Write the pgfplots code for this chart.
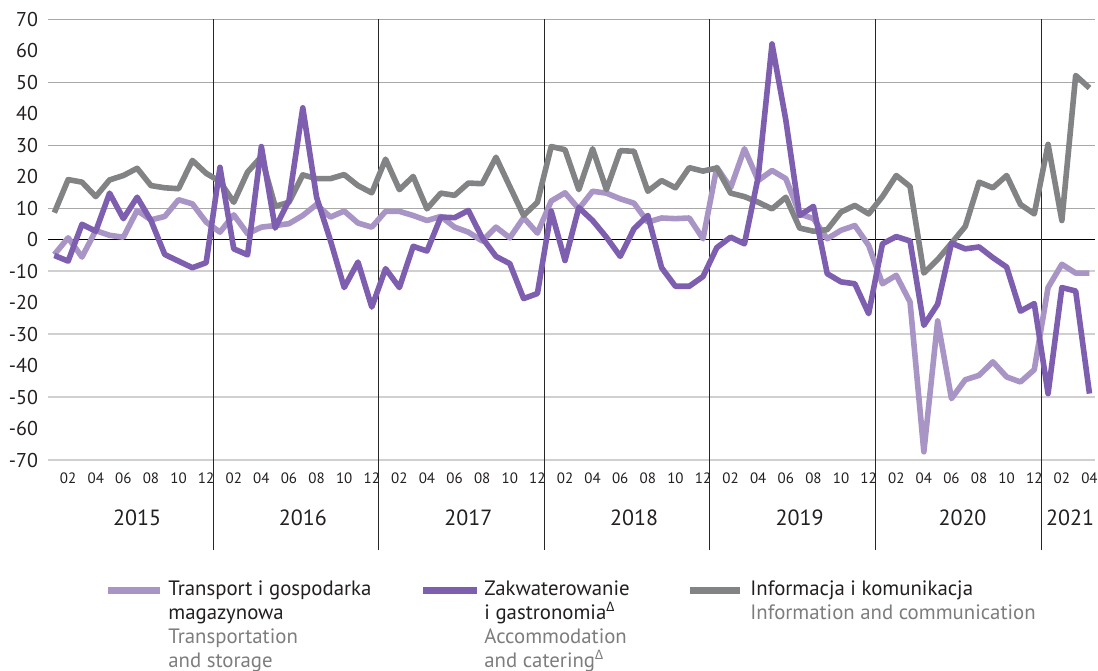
\documentclass[border=0pt]{standalone}
\usepackage{pgfplots}
\pgfplotsset{compat=1.18}
\usepackage{fontspec}
\setmainfont{PT Sans}
\newfontfamily\grk{Carlito}

\definecolor{lpur}{HTML}{A895C5}
\definecolor{dpur}{HTML}{7E5EAE}
\definecolor{grey}{HTML}{828385}
\definecolor{gridA}{HTML}{A8A8A8}
\definecolor{gridB}{HTML}{D0D0D0}
\definecolor{engl}{HTML}{7D7D7D}
\definecolor{txt}{HTML}{231F20}

% month index (1 = 2015-01), transport, accommodation, ICT
\pgfplotstableread{
m   tr     ak     ic
1   -4.7   -5.0   8.6
2   0.6    -6.8   19.1
3   -5.5   4.9    18.3
4   2.9    2.7    13.7
5   1.4    14.8   19.0
6   0.8    6.7    20.4
7   9.3    13.5   22.7
8   6.3    6.1    17.2
9   7.4    -4.7   16.5
10  12.7   -6.8   16.2
11  11.4   -8.9   25.2
12  5.6    -7.3   21.1
13  2.4    23.0   18.5
14  7.9    -2.9   11.9
15  1.9    -4.8   21.5
16  4.0    29.6   26.4
17  4.5    3.7    10.6
18  5.1    12.5   11.9
19  7.7    41.9   20.6
20  11.2   13.5   19.4
21  7.2    -0.2   19.4
22  9.1    -15.2  20.7
23  5.3    -7.1   17.2
24  4.0    -21.4  14.9
25  9.0    -9.2   25.6
26  9.0    -15.2  15.9
27  7.7    -2.1   20.1
28  6.1    -3.6   9.8
29  7.4    7.2    14.8
30  4.0    7.0    14.1
31  2.4    9.3    18.0
32  -0.4   0.6    17.8
33  4.0    -5.3   26.2
34  0.6    -7.6   16.9
35  7.0    -18.7  7.7
36  2.1    -17.1  11.9
37  12.3   9.1    29.6
38  14.9   -6.6   28.6
39  9.8    10.2   15.9
40  15.4   6.1    28.9
41  14.8   0.8    15.9
42  13.0   -5.3   28.3
43  11.6   3.5    28.1
44  5.6    7.7    15.4
45  6.9    -8.9   18.8
46  6.7    -14.8  16.5
47  6.9    -14.8  22.9
48  0.3    -11.7  21.8
49  23.0   -2.5   22.8
50  16.5   0.8    14.8
51  28.9   -1.3   13.7
52  18.8   20.0   11.9
53  22.0   62.2   9.8
54  19.4   38.0   13.5
55  8.2    7.7    3.7
56  6.7    10.6   2.7
57  0.3    -10.8  3.2
58  3.0    -13.4  8.8
59  4.5    -14.0  10.9
60  -1.8   -23.5  8.2
61  -14.0  -1.3   13.7
62  -11.3  1.0    20.4
63  -19.8  -0.4   16.9
64  -67.4  -27.2  -10.6
65  -25.8  -20.5  -6.3
66  -50.5  -1.1   -1.1
67  -44.5  -2.9   4.2
68  -43.1  -2.3   18.3
69  -38.8  -5.7   16.5
70  -43.6  -8.7   20.4
71  -45.2  -22.7  11.2
72  -41.3  -20.3  8.2
73  -15.2  -48.9  30.3
74  -7.8   -15.2  6.1
75  -10.6  -16.3  52.2
76  -10.6  -48.9  48.2
}\data

\begin{document}
\begin{tikzpicture}[
  yearlbl/.style={font=\fontsize{11}{12}\selectfont, text=txt, yshift=-29pt},
  sep/.style={black!85, line width=0.5pt},
  gA/.style={gridA, line width=0.6pt},
  gB/.style={gridB, line width=0.8pt},
]
\begin{axis}[
  scale only axis,
  width=523.5pt, height=220.3pt,
  xmin=0.54, xmax=76.4, ymin=-70, ymax=70,
  clip=false,
  axis line style={draw=none},
  major tick length=0pt,
  ytick={-70,-60,...,70},
  yticklabels={-70,-60,-50,-40,-30,-20,-10,0,10,20,30,40,50,60,70},
  yticklabel style={font=\fontsize{10}{12}\selectfont, text=txt, xshift=-1.5pt},
  xtick={2,4,...,76},
  xticklabels={02,04,06,08,10,12,02,04,06,08,10,12,02,04,06,08,10,12,
    02,04,06,08,10,12,02,04,06,08,10,12,02,04,06,08,10,12,02,04},
  xticklabel style={font=\fontsize{7.5}{8}\selectfont, text=txt, yshift=-3pt},
  line join=round,
]
\coordinate (O) at (rel axis cs:0,0);
% horizontal grid at odd tens
\draw[gA] (axis cs:0.54,70) -- (axis cs:76.4,70);
\draw[gA] (axis cs:0.54,50) -- (axis cs:76.4,50);
\draw[gA] (axis cs:0.54,30) -- (axis cs:76.4,30);
\draw[gA] (axis cs:0.54,10) -- (axis cs:76.4,10);
\draw[gB] (axis cs:0.54,-10) -- (axis cs:76.4,-10);
\draw[gB] (axis cs:0.54,-30) -- (axis cs:76.4,-30);
\draw[gB] (axis cs:0.54,-50) -- (axis cs:76.4,-50);
\draw[gB] (axis cs:0.54,-70) -- (axis cs:76.4,-70);
\draw[black, line width=0.6pt] (axis cs:0.54,0) -- (axis cs:76.4,0);
% year separators
\draw[sep] (axis cs:12.5,70) -- ([yshift=-45pt]axis cs:12.5,-70);
\draw[sep] (axis cs:24.5,70) -- ([yshift=-45pt]axis cs:24.5,-70);
\draw[sep] (axis cs:36.5,70) -- ([yshift=-45pt]axis cs:36.5,-70);
\draw[sep] (axis cs:48.5,70) -- ([yshift=-45pt]axis cs:48.5,-70);
\draw[sep] (axis cs:60.5,70) -- ([yshift=-45pt]axis cs:60.5,-70);
\draw[sep] (axis cs:72.5,70) -- ([yshift=-45pt]axis cs:72.5,-70);
% year labels
\node[yearlbl] at (axis cs:7,-70) {2015};
\node[yearlbl] at (axis cs:19,-70) {2016};
\node[yearlbl] at (axis cs:31,-70) {2017};
\node[yearlbl] at (axis cs:43,-70) {2018};
\node[yearlbl] at (axis cs:55,-70) {2019};
\node[yearlbl] at (axis cs:66.8,-70) {2020};
\node[yearlbl] at (axis cs:74.6,-70) {2021};

\addplot[lpur, line width=2.8pt] table[x=m, y=tr] {\data};
\addplot[grey, line width=2.8pt] table[x=m, y=ic] {\data};
\addplot[dpur, line width=2.8pt] table[x=m, y=ak] {\data};
\end{axis}

% legend
\begin{scope}[every node/.style={anchor=north west, align=left, inner sep=0pt,
    font=\fontsize{10.4}{12}\selectfont, text=txt}]
\draw[lpur, line width=3.5pt] ([xshift=30pt, yshift=-65pt]O) -- ++(26pt,0);
\node at ([xshift=60pt, yshift=-60pt]O)
  {Transport i gospodarka\\magazynowa\\\textcolor{engl}{Transportation}\\\textcolor{engl}{and storage}};
\draw[dpur, line width=3.5pt] ([xshift=187.5pt, yshift=-65pt]O) -- ++(27pt,0);
\node at ([xshift=218pt, yshift=-60pt]O)
  {Zakwaterowanie\\i gastronomia\textsuperscript{\grk Δ}\\\textcolor{engl}{Accommodation}\\\textcolor{engl}{and catering\textsuperscript{\grk Δ}}};
\draw[grey, line width=3.5pt] ([xshift=321pt, yshift=-65pt]O) -- ++(25pt,0);
\node at ([xshift=351pt, yshift=-60pt]O)
  {Informacja i komunikacja\\\textcolor{engl}{Information and communication}};
\end{scope}

\pgfresetboundingbox
\path ([xshift=-24pt, yshift=-105pt]O) rectangle ([xshift=525pt, yshift=230pt]O);
\end{tikzpicture}
\end{document}
